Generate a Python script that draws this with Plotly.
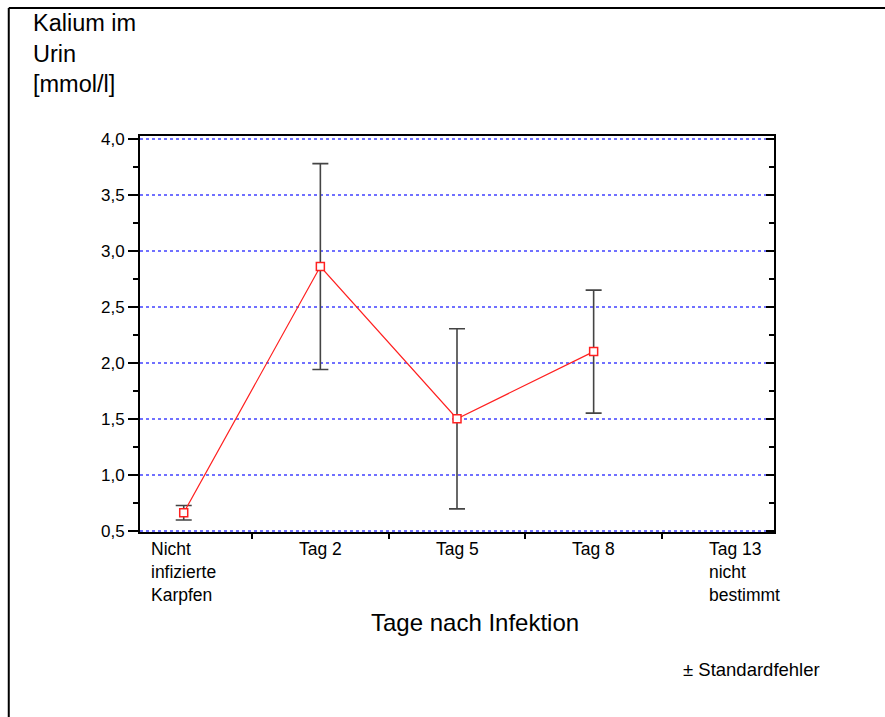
import plotly.graph_objects as go

# Urine potassium of carp by day after infection (mean ± standard error)
categories = ["Nicht infizierte Karpfen", "Tag 2", "Tag 5", "Tag 8", "Tag 13 nicht bestimmt"]
tick_labels = ["Nicht<br>infizierte<br>Karpfen", "Tag 2", "Tag 5", "Tag 8", "Tag 13<br>nicht<br>bestimmt"]
label_shift = [0, 0, 0, 0, 14]
mean_values = [0.66, 2.86, 1.50, 2.10, None]
std_errors = [0.065, 0.92, 0.805, 0.55, None]

FONT = "Liberation Sans, Arial, sans-serif"

fig = go.Figure()

fig.add_trace(go.Scatter(
    x=categories,
    y=mean_values,
    mode="lines+markers",
    line=dict(color="#ff2020", width=1.2),
    marker=dict(symbol="square", size=8, color="white",
                line=dict(color="#ff2020", width=1.5)),
    error_y=dict(type="data", array=std_errors, visible=True,
                 color="#444444", thickness=1.6, width=8),
    connectgaps=False,
    showlegend=False,
    cliponaxis=False,
))

# invisible trace on the right axis so its inward ticks are drawn
fig.add_trace(go.Scatter(x=categories, y=mean_values, yaxis="y2",
                         mode="markers", marker=dict(opacity=0),
                         hoverinfo="skip", showlegend=False))

fig.update_layout(
    width=885, height=717,
    margin=dict(l=139.5, r=110.5, t=136, b=185),
    paper_bgcolor="white", plot_bgcolor="white",
    font=dict(family=FONT, size=17, color="black"),
    xaxis=dict(
        type="category",
        categoryorder="array", categoryarray=categories,
        range=[-0.32, 4.32],
        showticklabels=False,
        tickson="boundaries",
        ticks="outside", ticklen=5, tickwidth=1.5, tickcolor="black",
        showline=True, linecolor="black", linewidth=2, mirror=True,
        showgrid=False, zeroline=False,
    ),
    yaxis=dict(
        range=[0.488, 4.027],
        tickvals=[0.5, 1.0, 1.5, 2.0, 2.5, 3.0, 3.5, 4.0],
        ticktext=["0,5", "1,0", "1,5", "2,0", "2,5", "3,0", "3,5", "4,0"],
        tickfont=dict(size=17),
        ticks="outside", ticklen=10, tickwidth=1.5, tickcolor="black",
        minor=dict(tickvals=[0.75, 1.25, 1.75, 2.25, 2.75, 3.25, 3.75],
                   ticks="outside", ticklen=5, tickwidth=1.5,
                   tickcolor="black", showgrid=False),
        showline=True, linecolor="black", linewidth=2,
        showgrid=True, gridcolor="#7070ff", gridwidth=1.5, griddash="dot",
        zeroline=False,
    ),
    yaxis2=dict(
        overlaying="y", side="right",
        range=[0.488, 4.027],
        tickvals=[0.5, 1.0, 1.5, 2.0, 2.5, 3.0, 3.5, 4.0],
        showticklabels=False,
        ticks="inside", ticklen=8, tickwidth=1.5, tickcolor="black",
        minor=dict(tickvals=[0.75, 1.25, 1.75, 2.25, 2.75, 3.25, 3.75],
                   ticks="inside", ticklen=5, tickwidth=1.5,
                   tickcolor="black", showgrid=False),
        showline=True, linecolor="black", linewidth=2,
        showgrid=False, zeroline=False,
    ),
)

# category labels below the axis
for cat, lab, dx in zip(categories, tick_labels, label_shift):
    fig.add_annotation(x=cat, y=0, xref="x", yref="paper",
                       text=lab, showarrow=False, align="left",
                       xanchor="center", yanchor="top", yshift=-5, xshift=dx,
                       font=dict(size=17.5))

# y axis title, top left
fig.add_annotation(x=-0.172, y=1.322, xref="paper", yref="paper",
                   text="Kalium im<br>Urin<br>[mmol/l]", showarrow=False,
                   align="left", xanchor="left", yanchor="top",
                   font=dict(size=23.5))

# x axis title
fig.add_annotation(x=0.528, y=-0.228, xref="paper", yref="paper",
                   text="Tage nach Infektion", showarrow=False,
                   xanchor="center", yanchor="middle", font=dict(size=24))

# error bar note
fig.add_annotation(x=0.854, y=-0.346, xref="paper", yref="paper",
                   text="± Standardfehler", showarrow=False,
                   xanchor="left", yanchor="middle", font=dict(size=18.5))

# page frame lines (top and left)
fig.add_shape(type="line", xref="paper", yref="paper",
              x0=-0.207, x1=1.2, y0=1.323, y1=1.323,
              line=dict(color="black", width=2))
fig.add_shape(type="line", xref="paper", yref="paper",
              x0=-0.207, x1=-0.207, y0=1.323, y1=-0.5,
              line=dict(color="black", width=2))

fig.write_html("out.html")
